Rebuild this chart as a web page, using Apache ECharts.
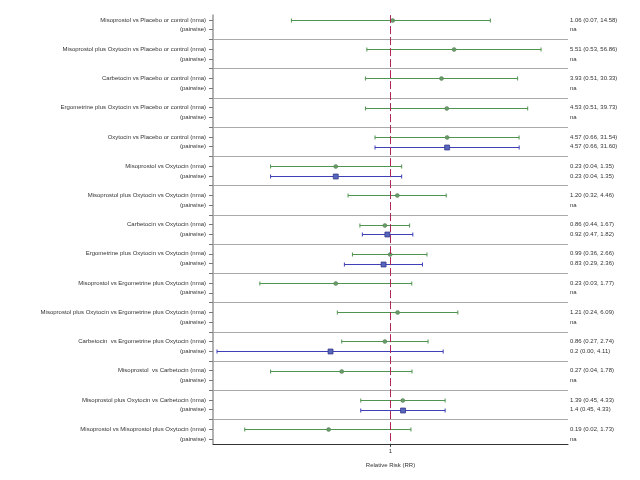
<!DOCTYPE html>
<html>
<head>
<meta charset="utf-8">
<script src="https://cdn.jsdelivr.net/npm/echarts@6/dist/echarts.min.js"></script>
<style>html,body{margin:0;padding:0;background:#fff}#c{width:640px;height:480px}</style>
</head>
<body>
<div id="c"></div>
<script>
// Comparisons (one group = nma row, pairwise row, separator)
const comparisons = [
  "Misoprostol vs Placebo or control",
  "Misoprostol plus Oxytocin vs Placebo or control",
  "Carbetocin vs Placebo or control",
  "Ergometrine plus Oxytocin vs Placebo or control",
  "Oxytocin vs Placebo or control",
  "Misoprostol vs Oxytocin",
  "Misoprostol plus Oxytocin vs Oxytocin",
  "Carbetocin vs Oxytocin",
  "Ergometrine plus Oxytocin vs Oxytocin",
  "Misoprostol vs Ergometrine plus Oxytocin",
  "Misoprostol plus Oxytocin vs Ergometrine plus Oxytocin",
  "Carbetocin  vs Ergometrine plus Oxytocin",
  "Misoprostol  vs Carbetocin",
  "Misoprostol plus Oxytocin vs Carbetocin",
  "Misoprostol vs Misoprostol plus Oxytocin"
];
// NMA estimates
const nmaEst  = [1.06, 5.51, 3.93, 4.53, 4.57, 0.23, 1.20, 0.86, 0.99, 0.23, 1.21, 0.86, 0.27, 1.39, 0.19];
const nmaLow  = [0.07, 0.53, 0.51, 0.51, 0.66, 0.04, 0.32, 0.44, 0.36, 0.03, 0.24, 0.27, 0.04, 0.45, 0.02];
const nmaHigh = [14.58, 56.86, 30.33, 39.73, 31.54, 1.35, 4.46, 1.67, 2.66, 1.77, 6.09, 2.74, 1.78, 4.33, 1.73];
const nmaText = ["1.06 (0.07, 14.58)","5.51 (0.53, 56.86)","3.93 (0.51, 30.33)","4.53 (0.51, 39.73)","4.57 (0.66, 31.54)","0.23 (0.04, 1.35)","1.20 (0.32, 4.46)","0.86 (0.44, 1.67)","0.99 (0.36, 2.66)","0.23 (0.03, 1.77)","1.21 (0.24, 6.09)","0.86 (0.27, 2.74)","0.27 (0.04, 1.78)","1.39 (0.45, 4.33)","0.19 (0.02, 1.73)"];
// Pairwise estimates (null = na)
const pwEst  = [null, null, null, null, 4.57, 0.23, null, 0.92, 0.83, null, null, 0.2, null, 1.4, null];
const pwLow  = [null, null, null, null, 0.66, 0.04, null, 0.47, 0.29, null, null, 0.0095, null, 0.45, null];
const pwHigh = [null, null, null, null, 31.60, 1.35, null, 1.82, 2.36, null, null, 4.11, null, 4.33, null];
const pwText = ["na","na","na","na","4.57 (0.66, 31.60)","0.23 (0.04, 1.35)","na","0.92 (0.47, 1.82)","0.83 (0.29, 2.36)","na","na","0.2 (0.00, 4.11)","na","1.4 (0.45, 4.33)","na"];
const xTicks = [1];
const xName = "Relative Risk (RR)";

// Build rows
const leftLabels = [], rightLabels = [], cats = [], sepIdx = [];
comparisons.forEach((c, g) => {
  leftLabels.push(c + " (nma)"); rightLabels.push(nmaText[g]);
  leftLabels.push("(pairwise)"); rightLabels.push(pwText[g]);
  if (g < comparisons.length - 1) { leftLabels.push(""); rightLabels.push(""); }
});
leftLabels.forEach((_, i) => cats.push("r" + i));
for (let g = 0; g < comparisons.length - 1; g++) sepIdx.push(3 * g + 2);

const nmaData = [], pwData = [];
comparisons.forEach((c, g) => {
  nmaData.push([3 * g, nmaEst[g], nmaLow[g], nmaHigh[g]]);
  if (pwEst[g] != null) pwData.push([3 * g + 1, pwEst[g], pwLow[g], pwHigh[g]]);
});

function makeRender(color, markerType) {
  return function (params, api) {
    const y = api.value(0);
    const pE = api.coord([api.value(1), y]);
    const pL = api.coord([api.value(2), y]);
    const pH = api.coord([api.value(3), y]);
    const yy = Math.round(pE[1]) + 0.5;
    const st = { stroke: color, lineWidth: 1, fill: null };
    const children = [
      { type: 'line', shape: { x1: pL[0], y1: yy, x2: pH[0], y2: yy }, style: st },
      { type: 'line', shape: { x1: pL[0], y1: yy - 2, x2: pL[0], y2: yy + 2 }, style: st },
      { type: 'line', shape: { x1: pH[0], y1: yy - 2, x2: pH[0], y2: yy + 2 }, style: st }
    ];
    if (markerType === 'circle') {
      children.push({ type: 'circle', shape: { cx: pE[0], cy: yy, r: 2 }, style: { fill: '#6a9a6a', stroke: '#4f7f4f', lineWidth: 0.5 } });
    } else {
      children.push({ type: 'rect', shape: { x: pE[0] - 2.5, y: yy - 2.5, width: 5, height: 5 }, style: { fill: '#5566bb', stroke: '#333388', lineWidth: 0.7 } });
    }
    return { type: 'group', children };
  };
}

const chart = echarts.init(document.getElementById('c'), null, { renderer: 'canvas' });
chart.setOption({
  animation: false,
  backgroundColor: '#ffffff',
  textStyle: { fontFamily: 'Liberation Sans, Arial, sans-serif' },
  grid: { left: 213, right: 72, top: 15.1, bottom: 36.2 },
  xAxis: {
    type: 'log', min: 0.00853, max: 117.2, logBase: 10,
    splitLine: { show: false },
    axisLine: { show: true, lineStyle: { color: '#333', width: 1 } },
    axisTick: { show: true, customValues: xTicks, length: 3, lineStyle: { color: '#333' } },
    axisLabel: { customValues: xTicks, fontSize: 6, color: '#333', margin: 5, formatter: v => String(v) },
    name: xName, nameLocation: 'middle', nameGap: 19,
    nameTextStyle: { fontSize: 6, color: '#333' }
  },
  yAxis: [
    {
      type: 'category', data: cats, inverse: true, boundaryGap: true,
      axisLine: { show: true, lineStyle: { color: '#999', width: 1.5 } },
      axisTick: { show: true, alignWithLabel: true, interval: 0, length: 4, lineStyle: { color: '#777' } },
      axisLabel: { interval: 0, fontSize: 6, color: '#333', margin: 7, formatter: (v, i) => leftLabels[i] },
      splitLine: { show: false }
    },
    {
      type: 'category', data: cats, inverse: true, boundaryGap: true, position: 'right',
      axisLine: { show: false }, axisTick: { show: false },
      axisLabel: { interval: 0, fontSize: 6, color: '#333', margin: 2, formatter: (v, i) => rightLabels[i] },
      splitLine: { show: false }
    }
  ],
  series: [
    {
      type: 'custom', name: 'sep', xAxisIndex: 0, yAxisIndex: 0, data: [],
      markLine: {
        silent: true, symbol: 'none', label: { show: false },
        lineStyle: { color: '#aaaaaa', width: 1, type: 'solid' },
        data: sepIdx.map(i => ({ yAxis: cats[i] }))
      },
      renderItem: () => null
    },
    {
      type: 'custom', name: 'nma', xAxisIndex: 0, yAxisIndex: 0,
      encode: { x: [1, 2, 3], y: 0 }, data: nmaData, renderItem: makeRender('#4f944f', 'circle'), z: 3
    },
    {
      type: 'custom', name: 'pairwise', xAxisIndex: 0, yAxisIndex: 0,
      encode: { x: [1, 2, 3], y: 0 }, data: pwData, renderItem: makeRender('#3f3fb8', 'square'), z: 3
    },
    {
      type: 'custom', name: 'ref', xAxisIndex: 0, yAxisIndex: 0, data: [], renderItem: () => null, z: 4,
      markLine: {
        silent: true, symbol: 'none', label: { show: false },
        lineStyle: { color: '#b0255a', width: 1, type: [8, 3] },
        data: [{ xAxis: 1 }]
      }
    }
  ]
});
</script>
</body>
</html>
